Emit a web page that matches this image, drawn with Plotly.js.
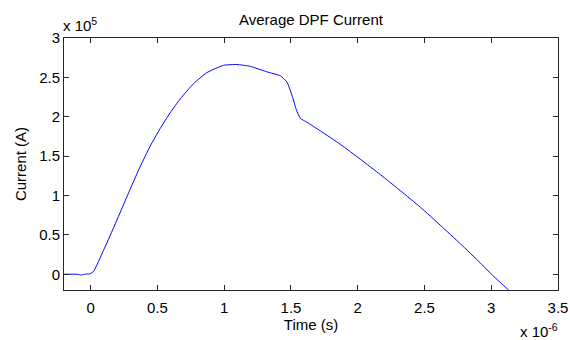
<!DOCTYPE html>
<html>
<head>
<meta charset="utf-8">
<script src="https://cdn.plot.ly/plotly-3.0.1.min.js"></script>
<style>
html,body{margin:0;padding:0;background:#fff;}
#chart{width:570px;height:340px;}
</style>
</head>
<body>
<div id="chart"></div>
<script>
// Time in units of 1e-6 s, current in units of 1e5 A
const timeMicro = [-0.2, -0.1, -0.07, -0.04, -0.01, 0.02, 0.095, 0.17, 0.245, 0.307, 0.37, 0.445, 0.52, 0.595, 0.67, 0.77, 0.87, 0.995, 1.095, 1.195, 1.32, 1.42, 1.47, 1.51, 1.54, 1.57, 1.62, 1.72, 1.87, 2.02, 2.17, 2.32, 2.47, 2.62, 2.77, 2.92, 3.02, 3.13, 3.17];
const currentE5 = [0.0, 0.0, -0.01, 0.003, 0.003, 0.033, 0.3, 0.585, 0.88, 1.125, 1.365, 1.625, 1.85, 2.05, 2.225, 2.42, 2.56, 2.653, 2.663, 2.64, 2.57, 2.52, 2.44, 2.26, 2.09, 1.98, 1.93, 1.82, 1.65, 1.46, 1.265, 1.06, 0.85, 0.62, 0.385, 0.14, -0.03, -0.2, -0.26];
const xTicks = [0, 0.5, 1, 1.5, 2, 2.5, 3, 3.5];
const yTicks = [0, 0.5, 1, 1.5, 2, 2.5, 3];
const chartTitle = "Average DPF Current";
const xLabel = "Time (s)";
const yLabel = "Current (A)";
const xExponent = "x 10<sup>-6</sup>";
const yExponent = "x 10<sup>5</sup>";

const FONT = "Liberation Sans, Arial, sans-serif";
const FS = 15;
const axisCommon = {
  showline: true, linecolor: "#262626", linewidth: 1, mirror: "ticks",
  ticks: "inside", ticklen: 5, tickcolor: "#262626", tickwidth: 1,
  showgrid: false, zeroline: false,
  tickfont: {family: FONT, size: FS, color: "#000"}
};

const data = [{
  x: timeMicro, y: currentE5, type: "scatter", mode: "lines",
  line: {color: "#0000ff", width: 1, shape: "spline", smoothing: 0.5},
  hoverinfo: "skip"
}];

const layout = {
  width: 570, height: 340,
  margin: {l: 64, r: 12, t: 38, b: 50},
  paper_bgcolor: "#fff", plot_bgcolor: "#fff",
  showlegend: false,
  font: {family: FONT, size: FS, color: "#000"},
  title: {text: chartTitle, font: {family: FONT, size: FS, color: "#000"},
          xref: "paper", x: 0.5, yref: "container", y: 1 - 20/340, yanchor: "middle"},
  xaxis: Object.assign({}, axisCommon, {
    range: [-0.2, 3.5], tickvals: xTicks, ticktext: xTicks.map(String),
    ticklabelstandoff: 4,
    title: {text: xLabel, font: {family: FONT, size: FS, color: "#000"}, standoff: 2}
  }),
  yaxis: Object.assign({}, axisCommon, {
    range: [-0.2, 3], tickvals: yTicks, ticktext: yTicks.map(String),
    title: {text: yLabel, font: {family: FONT, size: FS, color: "#000"}, standoff: 8}
  }),
  annotations: [
    {text: yExponent, xref: "paper", yref: "paper", x: 0, y: 1, xanchor: "left", yanchor: "bottom",
     yshift: 2, xshift: -3, showarrow: false, font: {family: FONT, size: FS, color: "#000"}},
    {text: xExponent, xref: "paper", yref: "paper", x: 1, y: 0, xanchor: "right", yanchor: "top",
     yshift: -29, xshift: 2, showarrow: false, font: {family: FONT, size: FS, color: "#000"}}
  ]
};

Plotly.newPlot("chart", data, layout, {displayModeBar: false, staticPlot: true});
</script>
</body>
</html>
